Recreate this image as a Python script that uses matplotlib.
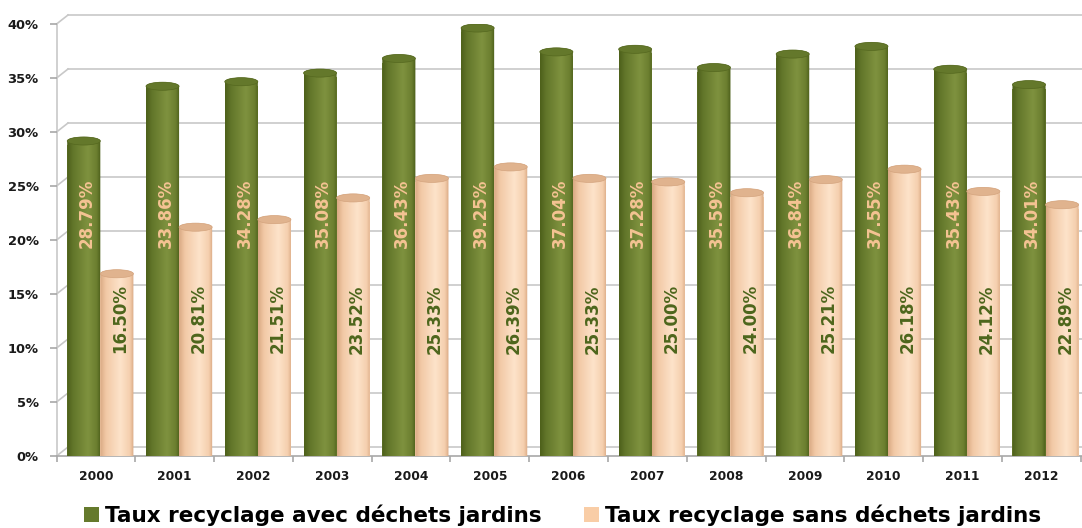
import matplotlib
matplotlib.use("Agg")
import matplotlib.pyplot as plt
import numpy as np
from matplotlib.colors import LinearSegmentedColormap
from matplotlib.patches import Ellipse, Polygon, Patch

# Recycling rates by year, with and without garden waste (%)
years = ["2000", "2001", "2002", "2003", "2004", "2005", "2006",
         "2007", "2008", "2009", "2010", "2011", "2012"]
avec_jardins = [28.79, 33.86, 34.28, 35.08, 36.43, 39.25, 37.04,
                37.28, 35.59, 36.84, 37.55, 35.43, 34.01]
sans_jardins = [16.50, 20.81, 21.51, 23.52, 25.33, 26.39, 25.33,
                25.00, 24.00, 25.21, 26.18, 24.12, 22.89]
series_names = ["Taux recyclage avec déchets jardins",
                "Taux recyclage sans déchets jardins"]
y_ticks = [0, 5, 10, 15, 20, 25, 30, 35, 40]

GREEN_CMAP = LinearSegmentedColormap.from_list(
    "green_cyl", [(0, "#4c5f1a"), (0.18, "#62762a"), (0.62, "#7f923f"),
                  (0.88, "#6b7e2f"), (1, "#4a5d19")])
PEACH_CMAP = LinearSegmentedColormap.from_list(
    "peach_cyl", [(0, "#d9a983"), (0.18, "#f2c9a6"), (0.6, "#fde3ca"),
                  (0.88, "#f5cfae"), (1, "#d8a882")])

GRID_COLOR = "#c8c8c8"
AXIS_COLOR = "#a8a8a8"
CAP_H = 0.75          # height of the cylinder caps, in % units
DEPTH_X, DEPTH_Y = 0.145, 0.83   # back-wall offset
BAR_W = 0.42


def cylinder(ax, xc, value, cmap, body, cap, z):
    x0, x1 = xc - BAR_W / 2, xc + BAR_W / 2
    top = value + CAP_H / 2
    t = np.linspace(0, np.pi, 40)
    bottom = [(xc - np.cos(a) * BAR_W / 2, -np.sin(a) * CAP_H / 2) for a in t]
    upper = [(xc + np.cos(a) * BAR_W / 2, top + np.sin(a) * CAP_H / 2) for a in t]
    outline = Polygon(bottom + upper, closed=True, transform=ax.transData)
    grad = np.linspace(0, 1, 256).reshape(1, -1)
    im = ax.imshow(grad, cmap=cmap, extent=(x0, x1, -CAP_H, top + CAP_H),
                   aspect="auto", interpolation="bicubic", zorder=z)
    im.set_clip_path(outline)
    ax.add_patch(Ellipse((xc, top), BAR_W, CAP_H, facecolor=cap,
                         edgecolor=body, linewidth=0.5, zorder=z + 0.1))


fig = plt.figure(figsize=(10.82, 5.28), dpi=100)
ax = fig.add_axes([0.0523, 0.1364, 0.9464, 0.8182])

x = np.arange(len(years))
green_x = x - 0.155
peach_x = x + 0.265

# flat bars underneath, shaded cylinders drawn on top
ax.bar(green_x, avec_jardins, BAR_W, color="#6f8233", zorder=2)
ax.bar(peach_x, sans_jardins, BAR_W, color="#f7d3b2", zorder=4)

for xc, v in zip(green_x, avec_jardins):
    cylinder(ax, xc, v, GREEN_CMAP, "#55681f", "#64782b", 3)
for xc, v in zip(peach_x, sans_jardins):
    cylinder(ax, xc, v, PEACH_CMAP, "#d4a47e", "#e0b38e", 5)

# value labels, rotated inside the cylinders
for xc, v in zip(green_x, avec_jardins):
    ax.text(xc + 0.04, 22.5, f"{v:.2f}%", rotation=90, ha="center",
            va="center", fontsize=12, fontweight="bold", color="#f5c393",
            zorder=8)
for xc, v in zip(peach_x, sans_jardins):
    ax.text(xc + 0.04, 12.7, f"{v:.2f}%", rotation=90, ha="center",
            va="center", fontsize=12, fontweight="bold", color="#4d661c",
            zorder=8)

# back wall gridlines with the perspective step on the left
x_left, x_right = -0.5, len(years) - 0.5
for v in y_ticks:
    ax.plot([x_left + DEPTH_X, x_right + 0.05], [v + DEPTH_Y, v + DEPTH_Y],
            color=GRID_COLOR, lw=1.2, zorder=1, clip_on=False)
    ax.plot([x_left, x_left + DEPTH_X], [v, v + DEPTH_Y],
            color=GRID_COLOR, lw=1.2, zorder=1, clip_on=False)
ax.plot([x_left, x_left], [0, 40], color=GRID_COLOR, lw=1.2, zorder=1,
        clip_on=False)
ax.plot([x_left, x_right + 0.05], [0, 0], color=AXIS_COLOR, lw=1.2,
        zorder=1, clip_on=False)

ax.set_xlim(x_left, x_right)
ax.set_ylim(0, 40)
for s in ax.spines.values():
    s.set_visible(False)

ax.set_yticks(y_ticks)
ax.set_yticklabels([f"{v}%" for v in y_ticks])
ax.tick_params(axis="y", length=5, color=AXIS_COLOR, width=1.2, pad=8)

ax.set_xticks(x)
ax.set_xticklabels(years)
ax.set_xticks(np.arange(len(years) + 1) - 0.5, minor=True)
ax.tick_params(axis="x", which="major", length=0, pad=10)
ax.tick_params(axis="x", which="minor", length=4, color=AXIS_COLOR, width=1.2)
for lbl in ax.get_xticklabels():
    lbl.set_fontsize(8.8)
    lbl.set_fontweight("bold")
    lbl.set_color("#1a1a1a")
for lbl in ax.get_yticklabels():
    lbl.set_fontsize(9.4)
    lbl.set_fontweight("bold")
    lbl.set_color("#1a1a1a")

handles = [Patch(facecolor="#657a2c", edgecolor="none"),
           Patch(facecolor="#f9cda6", edgecolor="none")]
fig.legend(handles, series_names, loc="center", bbox_to_anchor=(0.52, 0.024),
           ncol=2, frameon=False, handlelength=0.7, handleheight=0.7,
           handletextpad=0.25, columnspacing=2.0,
           prop={"size": 15.5, "weight": "bold"})

fig.savefig("out.png", dpi=100)
